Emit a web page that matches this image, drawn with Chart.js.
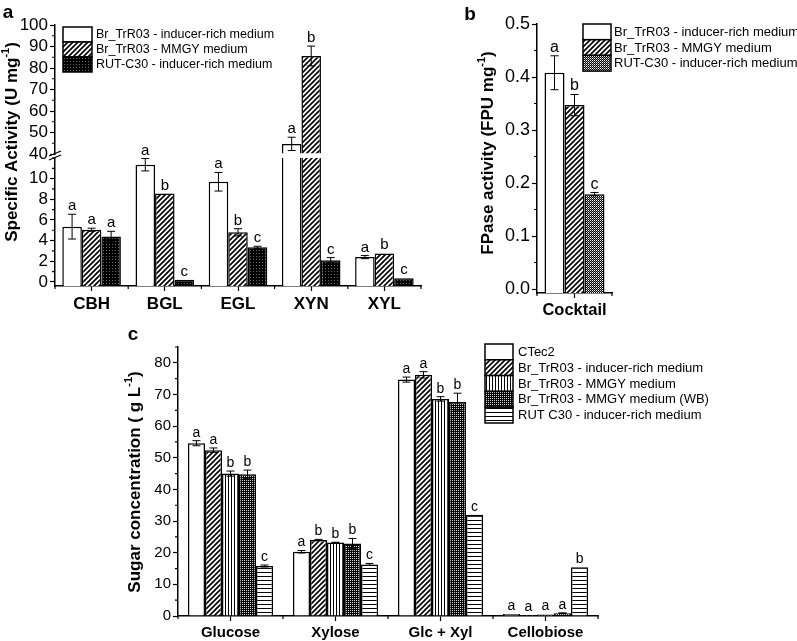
<!DOCTYPE html>
<html>
<head>
<meta charset="utf-8">
<title>Enzyme activity and sugar release</title>
<script src="https://cdn.jsdelivr.net/npm/chart.js@4.4.1/dist/chart.umd.min.js"></script>
<style>
  html, body { margin: 0; padding: 0; background: #fff; }
  #figure { position: relative; width: 797px; height: 641px; overflow: hidden; }
  #figure canvas { position: absolute; left: 0; top: 0; }
</style>
</head>
<body>
<div id="figure">
  <canvas id="chart-a-top" width="797" height="641"></canvas>
  <canvas id="chart-a-bottom" width="797" height="641"></canvas>
  <canvas id="chart-b" width="797" height="641"></canvas>
  <canvas id="chart-c" width="797" height="641"></canvas>
</div>
<script>
// ===== DATA =====
// Panel a - specific activity (U mg-1), broken y axis
const activityCategories = ['CBH', 'BGL', 'EGL', 'XYN', 'XYL'];
const activitySeries = ['Br_TrR03 - inducer-rich medium', 'Br_TrR03 - MMGY medium', 'RUT-C30 - inducer-rich medium'];
const activityInducer = [5.35, 11.35, 9.7, 44.7, 2.4];
const activityInducerErr = [1.2, 0.6, 0.9, 3.1, 0.15];
const activityInducerLetters = ['a', 'a', 'a', 'a', 'a'];
const activityMmgy = [5.05, 8.55, 4.8, 85.6, 2.75];
const activityMmgyErr = [0.15, 0, 0.35, 4.6, 0];
const activityMmgyLetters = ['a', 'b', 'b', 'b', 'b'];
const activityRut = [4.4, 0.2, 3.35, 2.1, 0.35];
const activityRutErr = [0.5, 0, 0.1, 0.25, 0];
const activityRutLetters = ['a', 'c', 'c', 'c', 'c'];
const activityLowTicks = [0, 2, 4, 6, 8, 10];
const activityHighTicks = [40, 50, 60, 70, 80, 90, 100];

// Panel b - FPase activity (FPU mg-1)
const fpaseCategories = ['Cocktail'];
const fpaseInducer = [0.408];
const fpaseInducerErr = [0.032];
const fpaseMmgy = [0.347];
const fpaseMmgyErr = [0.02];
const fpaseRut = [0.179];
const fpaseRutErr = [0.003];
const fpaseTicks = [0, 0.1, 0.2, 0.3, 0.4, 0.5];

// Panel c - sugar concentration (g L-1)
const sugarCategories = ['Glucose', 'Xylose', 'Glc + Xyl', 'Cellobiose'];
const sugarSeries = ['CTec2', 'Br_TrR03 - inducer-rich medium', 'Br_TrR03 - MMGY medium', 'Br_TrR03 - MMGY medium (WB)', 'RUT C30 - inducer-rich medium'];
const sugarCtec2 = [54.6, 20.3, 74.7, 0.6];
const sugarCtec2Err = [0.8, 0.4, 0.8, 0];
const sugarCtec2Letters = ['a', 'a', 'a', 'a'];
const sugarInducer = [52.4, 24.0, 76.2, 0.3];
const sugarInducerErr = [0.7, 0.2, 1.0, 0];
const sugarInducerLetters = ['a', 'b', 'a', 'a'];
const sugarMmgy = [45.0, 23.2, 68.6, 0.5];
const sugarMmgyErr = [0.8, 0.1, 0.7, 0];
const sugarMmgyLetters = ['b', 'b', 'b', 'a'];
const sugarMmgyWb = [44.8, 22.9, 67.6, 0.9];
const sugarMmgyWbErr = [1.3, 1.6, 2.8, 0.1];
const sugarMmgyWbLetters = ['b', 'b', 'b', 'a'];
const sugarRut = [15.8, 16.3, 32.0, 15.4];
const sugarRutErr = [0.3, 0.3, 0, 0];
const sugarRutLetters = ['c', 'c', 'c', 'b'];
const sugarTicks = [0, 10, 20, 30, 40, 50, 60, 70, 80];

// ===== STYLE HELPERS =====
const FONT = "'Liberation Sans', Arial, sans-serif";
Chart.defaults.font.family = FONT;
Chart.defaults.color = '#000';

/**
 * Build a small repeating fill pattern for the bars
 * @param {string} kind - pattern name
 */
function makePattern(kind) {
  const tile = document.createElement('canvas');
  const g = tile.getContext('2d');
  const dot = (x, y, c) => { g.fillStyle = c; g.fillRect(x, y, 1, 1); };
  switch (kind) {
    case 'hatch':
      tile.width = tile.height = 5;
      g.fillStyle = '#fff'; g.fillRect(0, 0, 5, 5);
      g.strokeStyle = '#000'; g.lineWidth = 1.7;
      g.beginPath();
      g.moveTo(-1, 6); g.lineTo(6, -1);
      g.moveTo(-1, 1); g.lineTo(1, -1);
      g.moveTo(4, 6); g.lineTo(6, 4);
      g.stroke();
      break;
    case 'darkDots':
      tile.width = tile.height = 3;
      g.fillStyle = '#000'; g.fillRect(0, 0, 3, 3);
      dot(1, 1, '#6a6a6a');
      break;
    case 'checker':
      tile.width = tile.height = 2;
      g.fillStyle = '#000'; g.fillRect(0, 0, 2, 2);
      dot(0, 0, '#fff'); dot(1, 1, '#8a8a8a');
      break;
    case 'denseChecker':
      tile.width = tile.height = 2;
      g.fillStyle = '#000'; g.fillRect(0, 0, 2, 2);
      dot(0, 0, '#d8d8d8');
      break;
    case 'vertical':
      tile.width = 3; tile.height = 1;
      g.fillStyle = '#fff'; g.fillRect(0, 0, 3, 1);
      dot(0, 0, '#000');
      break;
    case 'horizontal':
      tile.width = 1; tile.height = 4;
      g.fillStyle = '#fff'; g.fillRect(0, 0, 1, 4);
      dot(0, 0, '#000');
      break;
  }
  return g.createPattern(tile, 'repeat');
}

const fills = {
  open: '#ffffff',
  hatch: makePattern('hatch'),
  darkDots: makePattern('darkDots'),
  checker: makePattern('checker'),
  denseChecker: makePattern('denseChecker'),
  vertical: makePattern('vertical'),
  horizontal: makePattern('horizontal')
};

function barSet(label, data, errors, letters, fill, base) {
  return {
    label, data, errors, letters, base,
    backgroundColor: fill,
    borderColor: '#000',
    borderWidth: 1.5,
    clip: 0
  };
}

function valueAxis(min, max, tickValues, fontSize, width, format) {
  return {
    type: 'linear',
    min, max,
    afterBuildTicks: scale => { scale.ticks = tickValues.map(v => ({ value: v })); },
    afterFit: scale => { scale.width = width; },
    border: { display: true, color: '#000', width: 1.5 },
    grid: { drawOnChartArea: false, drawTicks: true, tickLength: 5, tickColor: '#000', tickWidth: 1.2 },
    ticks: { padding: 2, color: '#000', autoSkip: false, font: { size: fontSize }, callback: format || (v => v) }
  };
}

function categoryAxis(fontSize, height, show) {
  return {
    type: 'category',
    display: show,
    offset: true,
    z: 1,
    afterFit: scale => { scale.height = show ? height : 0; },
    border: { display: true, color: '#000', width: 1.5 },
    grid: { offset: false, drawOnChartArea: false, drawTicks: true, tickLength: 5, tickColor: '#000', tickWidth: 1.2 },
    ticks: { padding: 3, color: '#000', maxRotation: 0, autoSkip: false, font: { size: fontSize, weight: 'bold' } }
  };
}

function baseOptions(padding, scales, groupShare) {
  return {
    responsive: false,
    animation: false,
    devicePixelRatio: 1,
    events: [],
    layout: { padding },
    datasets: { bar: { categoryPercentage: groupShare, barPercentage: 1 } },
    plugins: { legend: { display: false }, tooltip: { enabled: false } },
    scales
  };
}

// ===== PLUGINS =====
/**
 * Error bars and significance letters, placed through the y scale
 */
function errorBars(letterSize, capHalf) {
  return {
    id: 'errorBars',
    afterDatasetsDraw(chart) {
      const { ctx } = chart;
      const yScale = chart.scales.y;
      ctx.save();
      ctx.lineWidth = 1;
      ctx.strokeStyle = '#000';
      ctx.fillStyle = '#000';
      ctx.font = `${letterSize}px ${FONT}`;
      ctx.textAlign = 'center';
      ctx.textBaseline = 'alphabetic';
      chart.data.datasets.forEach((ds, di) => {
        chart.getDatasetMeta(di).data.forEach((bar, i) => {
          const v = ds.data[i];
          if (v < yScale.min || v > yScale.max) return;
          const err = ds.errors[i] || 0;
          const top = yScale.getPixelForValue(v + err);
          if (err > 0) {
            const bottom = yScale.getPixelForValue(Math.max(v - err, yScale.min));
            ctx.beginPath();
            ctx.moveTo(bar.x, bottom); ctx.lineTo(bar.x, top);
            ctx.moveTo(bar.x - capHalf, top); ctx.lineTo(bar.x + capHalf, top);
            ctx.moveTo(bar.x - capHalf, bottom); ctx.lineTo(bar.x + capHalf, bottom);
            ctx.stroke();
          }
          ctx.fillText(ds.letters[i], bar.x, Math.min(top, bar.y) - 4);
        });
      });
      ctx.restore();
    }
  };
}

/**
 * Short minor ticks between the major ones (Origin style)
 */
function minorTicks(yStep) {
  return {
    id: 'minorTicks',
    afterDraw(chart) {
      const { ctx, chartArea } = chart;
      const y = chart.scales.y;
      const x = chart.scales.x;
      ctx.save();
      ctx.strokeStyle = '#000';
      ctx.lineWidth = 1.2;
      ctx.beginPath();
      const first = Math.ceil(y.min / yStep) * yStep;
      for (let v = first; v <= y.max + 1e-9; v += yStep) {
        if (y.ticks.some(t => Math.abs(t.value - v) < yStep / 10)) continue;
        const py = y.getPixelForValue(v);
        ctx.moveTo(chartArea.left - 3, py); ctx.lineTo(chartArea.left, py);
      }
      if (x.options.display !== false) {
        const n = x.ticks.length;
        const step = n > 1 ? x.getPixelForValue(1) - x.getPixelForValue(0) : chartArea.right - chartArea.left;
        for (let i = 0; i <= n; i++) {
          const px = x.getPixelForValue(0) - step / 2 + i * step;
          ctx.moveTo(px, chartArea.bottom); ctx.lineTo(px, chartArea.bottom + 3);
        }
      }
      ctx.stroke();
      ctx.restore();
    }
  };
}

/**
 * Legend with large patterned boxes stacked without gaps
 */
function boxLegend(x, y, boxWidth, rowHeight, fontSize, gap) {
  return {
    id: 'boxLegend',
    afterDraw(chart) {
      const { ctx } = chart;
      ctx.save();
      ctx.font = `${fontSize}px ${FONT}`;
      ctx.textAlign = 'left';
      ctx.textBaseline = 'middle';
      chart.data.datasets.forEach((ds, i) => {
        const top = y + i * rowHeight;
        ctx.fillStyle = ds.backgroundColor;
        ctx.fillRect(x, top, boxWidth, rowHeight);
        ctx.strokeStyle = '#000';
        ctx.lineWidth = 1.5;
        ctx.strokeRect(x, top, boxWidth, rowHeight);
        ctx.fillStyle = '#000';
        ctx.fillText(ds.label, x + boxWidth + gap, top + rowHeight / 2 + 0.5);
      });
      ctx.restore();
    }
  };
}

/**
 * Panel letters and axis titles with a superscript part
 */
function figureText(items) {
  return {
    id: 'figureText',
    afterDraw(chart) {
      const { ctx } = chart;
      items.forEach(item => {
        ctx.save();
        ctx.translate(item.x, item.y);
        if (item.rotate) ctx.rotate(-Math.PI / 2);
        ctx.fillStyle = '#000';
        ctx.textBaseline = 'middle';
        ctx.textAlign = 'left';
        const mainFont = `bold ${item.size}px ${FONT}`;
        const supFont = `bold ${Math.round(item.size * 0.62)}px ${FONT}`;
        const parts = [
          { text: item.text, font: mainFont, dy: 0 },
          { text: item.sup || '', font: supFont, dy: -item.size * 0.38 },
          { text: item.tail || '', font: mainFont, dy: 0 }
        ];
        let total = 0;
        parts.forEach(p => { ctx.font = p.font; p.w = ctx.measureText(p.text).width; total += p.w; });
        let cursor = -total / 2;
        parts.forEach(p => { ctx.font = p.font; ctx.fillText(p.text, cursor, p.dy); cursor += p.w; });
        ctx.restore();
      });
    }
  };
}

/**
 * Break marks on the y axis of panel a
 */
function axisBreak() {
  return {
    id: 'axisBreak',
    afterDraw(chart) {
      const { ctx, chartArea } = chart;
      const x = chartArea.left;
      const y = chartArea.top;
      ctx.save();
      ctx.strokeStyle = '#000';
      ctx.lineWidth = 1.3;
      ctx.beginPath();
      ctx.moveTo(x - 6, y - 2); ctx.lineTo(x + 6, y - 7);
      ctx.moveTo(x - 6, y + 2); ctx.lineTo(x + 6, y - 3);
      ctx.stroke();
      ctx.restore();
    }
  };
}

// ===== PANEL A =====
function activityDatasets(base) {
  return [
    barSet(activitySeries[0], activityInducer, activityInducerErr, activityInducerLetters, fills.open, base),
    barSet(activitySeries[1], activityMmgy, activityMmgyErr, activityMmgyLetters, fills.hatch, base),
    barSet(activitySeries[2], activityRut, activityRutErr, activityRutLetters, fills.darkDots, base)
  ];
}

new Chart(document.getElementById('chart-a-top'), {
  type: 'bar',
  data: { labels: activityCategories, datasets: activityDatasets(40) },
  options: baseOptions({ left: 10, top: 25, right: 376, bottom: 487 }, {
    x: categoryAxis(17, 30, false),
    y: valueAxis(40, 100, activityHighTicks, 17, 45)
  }, 0.8),
  plugins: [errorBars(15, 4), minorTicks(5), boxLegend(63, 27, 29, 15, 12.5, 4)]
});

new Chart(document.getElementById('chart-a-bottom'), {
  type: 'bar',
  data: { labels: activityCategories, datasets: activityDatasets(-0.4) },
  options: baseOptions({ left: 10, top: 158, right: 376, bottom: 325 }, {
    x: categoryAxis(17, 30, true),
    y: valueAxis(-0.4, 12, activityLowTicks, 17, 45)
  }, 0.8),
  plugins: [errorBars(15, 4), minorTicks(1), axisBreak(), figureText([
    { text: 'a', x: 8, y: 13, size: 19 },
    { text: 'Specific Activity (U mg', sup: '-1', tail: ')', x: 12, y: 142, size: 17, rotate: true }
  ])]
});

// ===== PANEL B =====
new Chart(document.getElementById('chart-b'), {
  type: 'bar',
  data: {
    labels: fpaseCategories,
    datasets: [
      barSet(activitySeries[0], fpaseInducer, fpaseInducerErr, ['a'], fills.open, -0.0075),
      barSet(activitySeries[1], fpaseMmgy, fpaseMmgyErr, ['b'], fills.hatch, -0.0075),
      barSet(activitySeries[2], fpaseRut, fpaseRutErr, ['c'], fills.checker, -0.0075)
    ]
  },
  options: baseOptions({ left: 487, top: 24, right: 185, bottom: 318 }, {
    x: categoryAxis(16.5, 30, true),
    y: valueAxis(-0.0075, 0.5, fpaseTicks, 18, 50, v => v.toFixed(1))
  }, 0.8),
  plugins: [errorBars(16, 4), minorTicks(0.05), boxLegend(583, 24, 28, 15.7, 13, 3), figureText([
    { text: 'b', x: 470, y: 15, size: 19 },
    { text: 'FPase activity (FPU mg', sup: '-1', tail: ')', x: 488, y: 153, size: 17, rotate: true }
  ])]
});

// ===== PANEL C =====
new Chart(document.getElementById('chart-c'), {
  type: 'bar',
  data: {
    labels: sugarCategories,
    datasets: [
      barSet(sugarSeries[0], sugarCtec2, sugarCtec2Err, sugarCtec2Letters, fills.open, 0),
      barSet(sugarSeries[1], sugarInducer, sugarInducerErr, sugarInducerLetters, fills.hatch, 0),
      barSet(sugarSeries[2], sugarMmgy, sugarMmgyErr, sugarMmgyLetters, fills.vertical, 0),
      barSet(sugarSeries[3], sugarMmgyWb, sugarMmgyWbErr, sugarMmgyWbLetters, fills.denseChecker, 0),
      barSet(sugarSeries[4], sugarRut, sugarRutErr, sugarRutLetters, fills.horizontal, 0)
    ]
  },
  options: baseOptions({ left: 138, top: 347, right: 199, bottom: 0 }, {
    x: categoryAxis(15, 25, true),
    y: valueAxis(0, 85, sugarTicks, 15, 40)
  }, 0.81),
  plugins: [errorBars(14, 4), minorTicks(5), boxLegend(485, 344, 28, 15.8, 13, 5), figureText([
    { text: 'c', x: 133, y: 335, size: 19 },
    { text: 'Sugar concentration ( g L', sup: '-1', tail: ')', x: 135, y: 482, size: 17, rotate: true }
  ])]
});
</script>
</body>
</html>
